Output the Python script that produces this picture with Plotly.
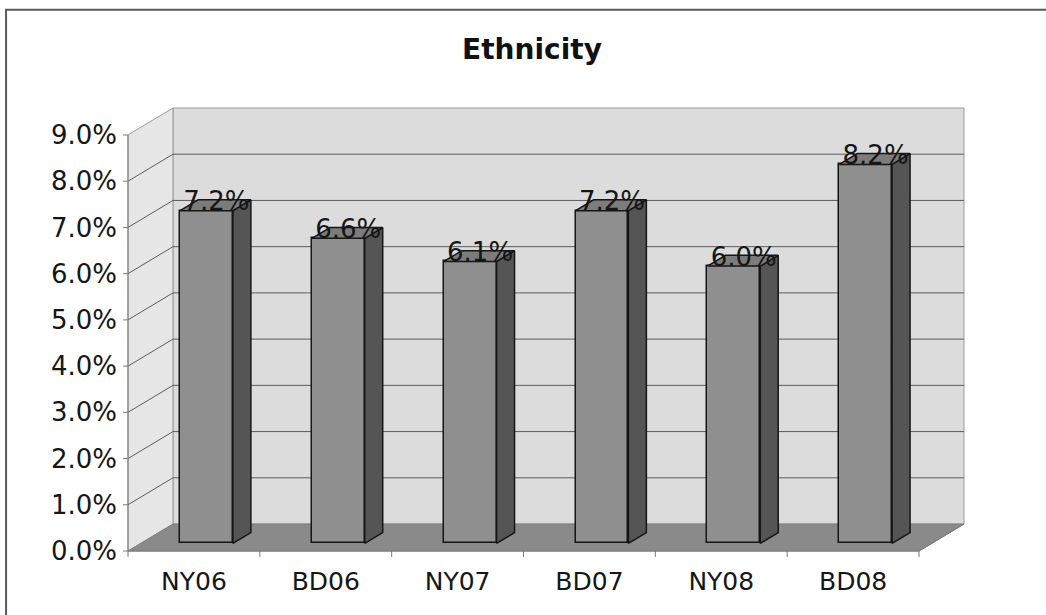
import plotly.graph_objects as go

# ---- data -------------------------------------------------------------
categories = ["NY06", "BD06", "NY07", "BD07", "NY08", "BD08"]
shares = [0.072, 0.066, 0.061, 0.072, 0.060, 0.082]
y_ticks = [0.00, 0.01, 0.02, 0.03, 0.04, 0.05, 0.06, 0.07, 0.08, 0.09]
chart_title = "Ethnicity"

# ---- geometry of the pseudo-3D box ------------------------------------
W, H = 1046, 615
UX = 131.9          # px per category unit
UY = 4625.0         # px per 1.0 (i.e. 46.25 px per 1 %)
DX = 45 / UX        # depth offset along x (data units)
DY = 27 / UY        # depth offset along y (data units)
BAR_W = 0.40        # bar width, in category units
BAR_D0, BAR_D1 = 0.28, 0.68   # bar depth span as fraction of box depth
LABEL_DROP = 6 / UY           # value labels sit slightly into the bar top

PADL, PADR, PADT, PADB = 8 / UX, 3 / UX, 3 / UY, 8 / UY
TICK_X = 5 / UX     # length of y tick marks
TICK_Y = 6 / UY     # length of x tick marks

n = len(categories)
xs = list(range(n))
x_lo, x_hi = -0.5, n - 0.5
y_top = y_ticks[-1]

x_range = [x_lo - PADL, x_hi + DX + PADR]
y_range = [0 - PADB, y_top + DY + PADT]
ML = 128 - PADL * UX
MR = W - (ML + (x_range[1] - x_range[0]) * UX)
MB = H - 551 - PADB * UY
MT = H - MB - (y_range[1] - y_range[0]) * UY

WALL_BACK = "#dcdcdc"
WALL_SIDE = "#e6e6e6"
FLOOR = "#8a8a8a"
EDGE = "#9c9c9c"
GRID = "#5c5c5c"
AXIS = "#7a7a7a"
BAR_FRONT = "#8f8f8f"
BAR_SIDE = "#555555"
BAR_TOP = "#7c7c7c"
OUTLINE = "#151515"
TEXT = "#161616"
FONT = "DejaVu Sans"


def poly(points):
    return "M " + " L ".join(f"{px},{py}" for px, py in points) + " Z"


shapes = []
# back wall
shapes.append(dict(type="path", xref="x", yref="y", layer="below",
                   path=poly([(x_lo + DX, DY), (x_hi + DX, DY),
                              (x_hi + DX, y_top + DY), (x_lo + DX, y_top + DY)]),
                   fillcolor=WALL_BACK, line=dict(color=EDGE, width=1)))
# left wall
shapes.append(dict(type="path", xref="x", yref="y", layer="below",
                   path=poly([(x_lo, 0), (x_lo, y_top),
                              (x_lo + DX, y_top + DY), (x_lo + DX, DY)]),
                   fillcolor=WALL_SIDE, line=dict(color=EDGE, width=1)))
# floor
shapes.append(dict(type="path", xref="x", yref="y", layer="below",
                   path=poly([(x_lo, 0), (x_hi, 0), (x_hi + DX, DY), (x_lo + DX, DY)]),
                   fillcolor=FLOOR, line=dict(color="#808080", width=1)))
# gridlines on left and back walls, with the y tick marks
for t in y_ticks:
    if 0 < t < y_top:
        shapes.append(dict(type="path", xref="x", yref="y", layer="below",
                           path=f"M {x_lo},{t} L {x_lo + DX},{t + DY} L {x_hi + DX},{t + DY}",
                           line=dict(color=GRID, width=1)))
    shapes.append(dict(type="line", xref="x", yref="y", layer="below",
                       x0=x_lo - TICK_X, x1=x_lo, y0=t, y1=t,
                       line=dict(color=AXIS, width=1)))
# value axis line (front edge of left wall)
shapes.append(dict(type="line", xref="x", yref="y", layer="below",
                   x0=x_lo, x1=x_lo, y0=0, y1=y_top, line=dict(color=AXIS, width=1)))
# category axis line and the right floor edge
shapes.append(dict(type="path", xref="x", yref="y", layer="below",
                   path=f"M {x_lo},0 L {x_hi},0 L {x_hi + DX},{DY}",
                   line=dict(color=AXIS, width=1)))
# category boundary tick marks
for k in range(n + 1):
    xb = x_lo + k
    shapes.append(dict(type="line", xref="x", yref="y", layer="below",
                       x0=xb, x1=xb, y0=0, y1=-TICK_Y, line=dict(color=AXIS, width=1)))

# outer chart frame (only top and left edges fall inside the page)
plot_w = W - ML - MR
plot_h = H - MT - MB
shapes.append(dict(type="rect", xref="paper", yref="paper", layer="above",
                   x0=(6 - ML) / plot_w, x1=(W + 10 - ML) / plot_w,
                   y0=(H - MB - (H + 10)) / plot_h, y1=(H - MB - 9.5) / plot_h,
                   line=dict(color="#5a5a5a", width=2), fillcolor="rgba(0,0,0,0)"))

fig = go.Figure()

# bar front faces
bar_x = [i + BAR_D0 * DX for i in xs]
base = BAR_D0 * DY
fig.add_trace(go.Bar(
    x=bar_x, y=shares, base=base, width=BAR_W,
    marker=dict(color=BAR_FRONT, line=dict(color=OUTLINE, width=1.5)),
    hoverinfo="skip", showlegend=False,
))

# bar side and top faces
ddx = (BAR_D1 - BAR_D0) * DX
ddy = (BAR_D1 - BAR_D0) * DY
side_x, side_y, top_x, top_y = [], [], [], []
for bx, v in zip(bar_x, shares):
    x0, x1 = bx - BAR_W / 2, bx + BAR_W / 2
    b, t = base, base + v
    side_x += [x1, x1, x1 + ddx, x1 + ddx, x1, None]
    side_y += [b, t, t + ddy, b + ddy, b, None]
    top_x += [x0, x1, x1 + ddx, x0 + ddx, x0, None]
    top_y += [t, t, t + ddy, t + ddy, t, None]

fig.add_trace(go.Scatter(x=side_x, y=side_y, mode="lines", fill="toself",
                         fillcolor=BAR_SIDE, line=dict(color=OUTLINE, width=1.5),
                         hoverinfo="skip", showlegend=False))
fig.add_trace(go.Scatter(x=top_x, y=top_y, mode="lines", fill="toself",
                         fillcolor=BAR_TOP, line=dict(color=OUTLINE, width=1.5),
                         hoverinfo="skip", showlegend=False))

# value labels above each bar
fig.add_trace(go.Scatter(
    x=[i + 0.5 * DX for i in xs], y=[base + v - LABEL_DROP for v in shares],
    mode="text", text=[f"{v:.1%}" for v in shares], textposition="top center",
    textfont=dict(family=FONT, size=26, color=TEXT),
    hoverinfo="skip", showlegend=False, cliponaxis=False,
))

fig.update_layout(
    width=W, height=H,
    margin=dict(l=ML, r=MR, t=MT, b=MB, pad=0),
    paper_bgcolor="white", plot_bgcolor="white",
    shapes=shapes,
    title=dict(text=f"<b>{chart_title}</b>", x=532 / W, xanchor="center",
               y=1 - 49 / H, yanchor="middle", yref="container",
               font=dict(family=FONT, size=28, color="#111111")),
    xaxis=dict(range=x_range, tickmode="array", tickvals=xs, ticktext=categories,
               showgrid=False, zeroline=False, showline=False, ticks="",
               ticklabelstandoff=5,
               tickfont=dict(family=FONT, size=25, color=TEXT)),
    yaxis=dict(range=y_range, tickmode="array", tickvals=y_ticks, tickformat=".1%",
               showgrid=False, zeroline=False, showline=False, ticks="",
               ticklabelstandoff=2,
               tickfont=dict(family=FONT, size=26, color=TEXT)),
    bargap=0,
    font=dict(family=FONT),
)

fig.write_html("out.html")
